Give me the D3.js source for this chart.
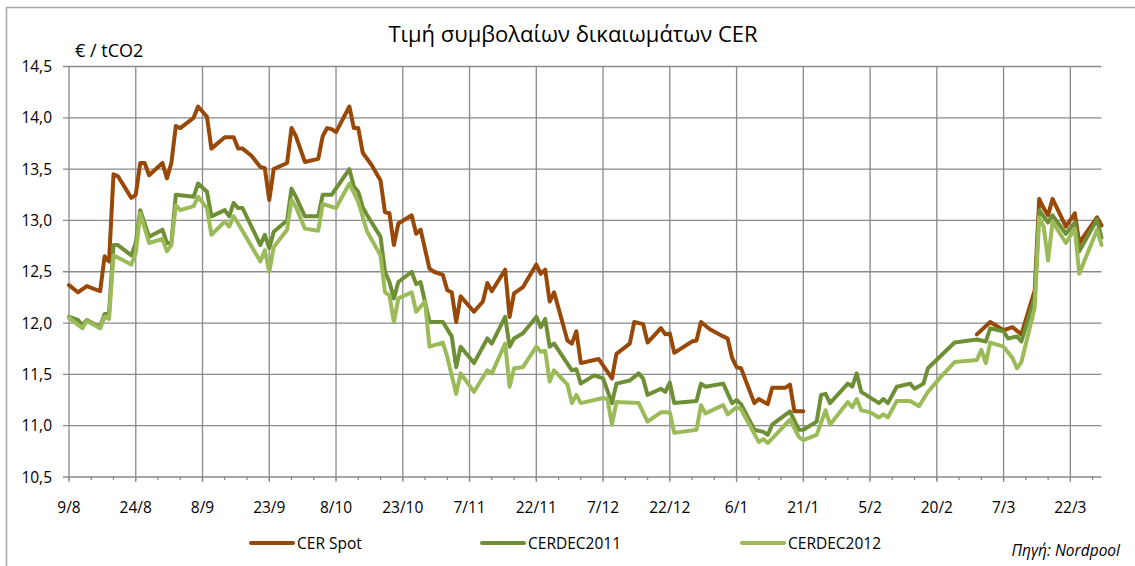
<!DOCTYPE html>
<html>
<head>
<meta charset="utf-8">
<script src="https://cdn.jsdelivr.net/npm/d3@7"></script>
<style>
  body { margin: 0; background: #fff; }
  text { font-family: "Open Sans", "Noto Sans", sans-serif; fill: #000; }
</style>
</head>
<body>
<svg id="chart" width="1135" height="566"></svg>
<script>
// prices, EUR/tCO2
var cerSpot = [
  ["2010-08-09", 12.37], ["2010-08-11", 12.30], ["2010-08-13", 12.36], ["2010-08-16", 12.31],
  ["2010-08-17", 12.65], ["2010-08-18", 12.60], ["2010-08-19", 13.45], ["2010-08-20", 13.43],
  ["2010-08-23", 13.22], ["2010-08-24", 13.25], ["2010-08-25", 13.56], ["2010-08-26", 13.56],
  ["2010-08-27", 13.44], ["2010-08-30", 13.56], ["2010-08-31", 13.41], ["2010-09-01", 13.56],
  ["2010-09-02", 13.92], ["2010-09-03", 13.90], ["2010-09-06", 14.00], ["2010-09-07", 14.11],
  ["2010-09-09", 14.01], ["2010-09-10", 13.70], ["2010-09-13", 13.81], ["2010-09-15", 13.81],
  ["2010-09-16", 13.70], ["2010-09-17", 13.70], ["2010-09-19", 13.63], ["2010-09-21", 13.52],
  ["2010-09-22", 13.51], ["2010-09-23", 13.20], ["2010-09-24", 13.50], ["2010-09-27", 13.56],
  ["2010-09-28", 13.90], ["2010-09-29", 13.82], ["2010-10-01", 13.57], ["2010-10-04", 13.60],
  ["2010-10-05", 13.82], ["2010-10-06", 13.90], ["2010-10-07", 13.89], ["2010-10-08", 13.86],
  ["2010-10-11", 14.11], ["2010-10-12", 13.90], ["2010-10-13", 13.90], ["2010-10-14", 13.66],
  ["2010-10-16", 13.54], ["2010-10-18", 13.39], ["2010-10-19", 13.08], ["2010-10-20", 13.07],
  ["2010-10-21", 12.76], ["2010-10-22", 12.97], ["2010-10-25", 13.05], ["2010-10-26", 12.87],
  ["2010-10-27", 12.91], ["2010-10-29", 12.53], ["2010-10-30", 12.50], ["2010-11-01", 12.47],
  ["2010-11-02", 12.32], ["2010-11-03", 12.30], ["2010-11-04", 12.01], ["2010-11-05", 12.26],
  ["2010-11-08", 12.11], ["2010-11-10", 12.21], ["2010-11-11", 12.39], ["2010-11-12", 12.31],
  ["2010-11-15", 12.52], ["2010-11-16", 12.06], ["2010-11-17", 12.29], ["2010-11-19", 12.35],
  ["2010-11-22", 12.57], ["2010-11-23", 12.48], ["2010-11-24", 12.52], ["2010-11-25", 12.21],
  ["2010-11-26", 12.30], ["2010-11-29", 11.83], ["2010-11-30", 11.80], ["2010-12-01", 11.92],
  ["2010-12-02", 11.61], ["2010-12-06", 11.65], ["2010-12-09", 11.46], ["2010-12-10", 11.70],
  ["2010-12-13", 11.80], ["2010-12-14", 12.01], ["2010-12-16", 11.99], ["2010-12-17", 11.81],
  ["2010-12-20", 11.95], ["2010-12-21", 11.89], ["2010-12-22", 11.90], ["2010-12-23", 11.71],
  ["2010-12-27", 11.82], ["2010-12-28", 11.83], ["2010-12-29", 12.01], ["2010-12-31", 11.94],
  ["2011-01-03", 11.87], ["2011-01-04", 11.85], ["2011-01-05", 11.66], ["2011-01-06", 11.57],
  ["2011-01-07", 11.56], ["2011-01-10", 11.22], ["2011-01-11", 11.26], ["2011-01-13", 11.21],
  ["2011-01-14", 11.37], ["2011-01-17", 11.37], ["2011-01-18", 11.40], ["2011-01-19", 11.14],
  ["2011-01-21", 11.14], ["2011-02-01", null],
  ["2011-03-01", 11.89], ["2011-03-04", 12.01], ["2011-03-07", 11.93], ["2011-03-09", 11.96],
  ["2011-03-11", 11.89], ["2011-03-14", 12.32], ["2011-03-15", 13.21], ["2011-03-16", 13.12],
  ["2011-03-17", 13.05], ["2011-03-18", 13.21], ["2011-03-21", 12.94], ["2011-03-23", 13.07],
  ["2011-03-24", 12.78], ["2011-03-28", 13.03], ["2011-03-29", 12.95]
];

var cerDec2011 = [
  ["2010-08-09", 12.06], ["2010-08-11", 12.03], ["2010-08-12", 11.98], ["2010-08-13", 12.03],
  ["2010-08-16", 11.96], ["2010-08-17", 12.09], ["2010-08-18", 12.10], ["2010-08-19", 12.76],
  ["2010-08-20", 12.76], ["2010-08-23", 12.66], ["2010-08-24", 12.78], ["2010-08-25", 13.10],
  ["2010-08-27", 12.84], ["2010-08-30", 12.91], ["2010-08-31", 12.78], ["2010-09-01", 12.78],
  ["2010-09-02", 13.25], ["2010-09-06", 13.23], ["2010-09-07", 13.36], ["2010-09-09", 13.28],
  ["2010-09-10", 13.04], ["2010-09-13", 13.10], ["2010-09-14", 13.04], ["2010-09-15", 13.17],
  ["2010-09-16", 13.12], ["2010-09-17", 13.12], ["2010-09-21", 12.76], ["2010-09-22", 12.86],
  ["2010-09-23", 12.73], ["2010-09-24", 12.89], ["2010-09-27", 13.00], ["2010-09-28", 13.31],
  ["2010-09-29", 13.23], ["2010-10-01", 13.04], ["2010-10-04", 13.04], ["2010-10-05", 13.25],
  ["2010-10-07", 13.25], ["2010-10-11", 13.50], ["2010-10-12", 13.33], ["2010-10-13", 13.28],
  ["2010-10-14", 13.13], ["2010-10-15", 13.05], ["2010-10-18", 12.84], ["2010-10-19", 12.50],
  ["2010-10-20", 12.40], ["2010-10-21", 12.24], ["2010-10-22", 12.40], ["2010-10-25", 12.50],
  ["2010-10-26", 12.38], ["2010-10-27", 12.40], ["2010-10-29", 12.01], ["2010-11-01", 12.01],
  ["2010-11-03", 11.87], ["2010-11-04", 11.57], ["2010-11-05", 11.77], ["2010-11-08", 11.61],
  ["2010-11-11", 11.85], ["2010-11-12", 11.80], ["2010-11-15", 12.06], ["2010-11-16", 11.77],
  ["2010-11-17", 11.85], ["2010-11-19", 11.90], ["2010-11-22", 12.06], ["2010-11-23", 11.96],
  ["2010-11-24", 12.04], ["2010-11-25", 11.77], ["2010-11-26", 11.80], ["2010-11-30", 11.54],
  ["2010-12-01", 11.55], ["2010-12-02", 11.41], ["2010-12-05", 11.49], ["2010-12-07", 11.46],
  ["2010-12-09", 11.22], ["2010-12-10", 11.41], ["2010-12-13", 11.44], ["2010-12-15", 11.51],
  ["2010-12-16", 11.46], ["2010-12-17", 11.30], ["2010-12-20", 11.36], ["2010-12-21", 11.33],
  ["2010-12-22", 11.42], ["2010-12-23", 11.22], ["2010-12-28", 11.24], ["2010-12-29", 11.41],
  ["2010-12-30", 11.38], ["2011-01-03", 11.41], ["2011-01-05", 11.22], ["2011-01-06", 11.25],
  ["2011-01-07", 11.21], ["2011-01-10", 10.96], ["2011-01-12", 10.94], ["2011-01-13", 10.91],
  ["2011-01-14", 11.01], ["2011-01-18", 11.14], ["2011-01-20", 10.96], ["2011-01-21", 10.96],
  ["2011-01-24", 11.04], ["2011-01-25", 11.30], ["2011-01-26", 11.31], ["2011-01-27", 11.22],
  ["2011-01-31", 11.41], ["2011-02-01", 11.38], ["2011-02-02", 11.51], ["2011-02-03", 11.33],
  ["2011-02-07", 11.22], ["2011-02-08", 11.26], ["2011-02-09", 11.22], ["2011-02-11", 11.38],
  ["2011-02-14", 11.41], ["2011-02-15", 11.36], ["2011-02-17", 11.41], ["2011-02-18", 11.56],
  ["2011-02-24", 11.81], ["2011-03-01", 11.84], ["2011-03-03", 11.82], ["2011-03-04", 11.95],
  ["2011-03-07", 11.92], ["2011-03-08", 11.85], ["2011-03-10", 11.87], ["2011-03-11", 11.82],
  ["2011-03-14", 12.25], ["2011-03-15", 13.10], ["2011-03-16", 13.04], ["2011-03-17", 12.98],
  ["2011-03-18", 13.05], ["2011-03-21", 12.87], ["2011-03-23", 12.98], ["2011-03-24", 12.70],
  ["2011-03-28", 13.01], ["2011-03-29", 12.83]
];

var cerDec2012 = [
  ["2010-08-09", 12.05], ["2010-08-12", 11.95], ["2010-08-13", 12.02], ["2010-08-16", 11.95],
  ["2010-08-17", 12.06], ["2010-08-18", 12.04], ["2010-08-19", 12.66], ["2010-08-23", 12.57],
  ["2010-08-24", 12.68], ["2010-08-25", 13.07], ["2010-08-27", 12.78], ["2010-08-30", 12.82],
  ["2010-08-31", 12.70], ["2010-09-01", 12.76], ["2010-09-02", 13.15], ["2010-09-03", 13.10],
  ["2010-09-06", 13.14], ["2010-09-07", 13.23], ["2010-09-09", 13.12], ["2010-09-10", 12.86],
  ["2010-09-13", 12.99], ["2010-09-14", 12.94], ["2010-09-15", 13.04], ["2010-09-16", 12.97],
  ["2010-09-21", 12.60], ["2010-09-22", 12.71], ["2010-09-23", 12.50], ["2010-09-24", 12.74],
  ["2010-09-27", 12.91], ["2010-09-28", 13.20], ["2010-09-29", 13.13], ["2010-10-01", 12.92],
  ["2010-10-04", 12.90], ["2010-10-05", 13.16], ["2010-10-08", 13.12], ["2010-10-11", 13.36],
  ["2010-10-13", 13.18], ["2010-10-15", 12.89], ["2010-10-18", 12.66], ["2010-10-19", 12.30],
  ["2010-10-20", 12.27], ["2010-10-21", 12.01], ["2010-10-22", 12.24], ["2010-10-25", 12.30],
  ["2010-10-26", 12.11], ["2010-10-28", 12.21], ["2010-10-29", 11.77], ["2010-11-01", 11.81],
  ["2010-11-02", 11.67], ["2010-11-04", 11.31], ["2010-11-05", 11.51], ["2010-11-08", 11.33],
  ["2010-11-11", 11.54], ["2010-11-12", 11.51], ["2010-11-15", 11.80], ["2010-11-16", 11.38],
  ["2010-11-17", 11.56], ["2010-11-19", 11.57], ["2010-11-22", 11.77], ["2010-11-23", 11.72],
  ["2010-11-24", 11.73], ["2010-11-25", 11.43], ["2010-11-26", 11.54], ["2010-11-29", 11.40],
  ["2010-11-30", 11.22], ["2010-12-01", 11.30], ["2010-12-02", 11.22], ["2010-12-07", 11.27],
  ["2010-12-08", 11.26], ["2010-12-09", 11.01], ["2010-12-10", 11.23], ["2010-12-15", 11.22],
  ["2010-12-17", 11.04], ["2010-12-20", 11.13], ["2010-12-22", 11.13], ["2010-12-23", 10.93],
  ["2010-12-28", 10.96], ["2010-12-29", 11.20], ["2010-12-30", 11.12], ["2011-01-03", 11.20],
  ["2011-01-04", 11.11], ["2011-01-06", 11.18], ["2011-01-07", 11.16], ["2011-01-10", 10.92],
  ["2011-01-11", 10.84], ["2011-01-12", 10.87], ["2011-01-13", 10.83], ["2011-01-15", 10.92],
  ["2011-01-18", 11.06], ["2011-01-20", 10.89], ["2011-01-21", 10.86], ["2011-01-24", 10.91],
  ["2011-01-26", 11.15], ["2011-01-27", 11.01], ["2011-01-31", 11.23], ["2011-02-01", 11.18],
  ["2011-02-02", 11.26], ["2011-02-03", 11.15], ["2011-02-05", 11.13], ["2011-02-07", 11.08],
  ["2011-02-08", 11.11], ["2011-02-09", 11.08], ["2011-02-11", 11.24], ["2011-02-14", 11.24],
  ["2011-02-16", 11.19], ["2011-02-18", 11.33], ["2011-02-21", 11.48], ["2011-02-24", 11.62],
  ["2011-03-01", 11.64], ["2011-03-02", 11.74], ["2011-03-03", 11.61], ["2011-03-04", 11.81],
  ["2011-03-07", 11.77], ["2011-03-09", 11.66], ["2011-03-10", 11.56], ["2011-03-11", 11.62],
  ["2011-03-14", 12.15], ["2011-03-15", 13.03], ["2011-03-16", 12.94], ["2011-03-17", 12.61],
  ["2011-03-18", 12.99], ["2011-03-21", 12.78], ["2011-03-23", 12.92], ["2011-03-24", 12.48],
  ["2011-03-28", 12.91], ["2011-03-29", 12.76]
];

var seriesNames = ["CER Spot", "CERDEC2011", "CERDEC2012"];
var seriesColors = ["#984807", "#6f8f37", "#9bbb59"];
var xTickDates = ["2010-08-09", "2010-08-24", "2010-09-08", "2010-09-23", "2010-10-08",
  "2010-10-23", "2010-11-07", "2010-11-22", "2010-12-07", "2010-12-22", "2011-01-06",
  "2011-01-21", "2011-02-05", "2011-02-20", "2011-03-07", "2011-03-22"];
var yTicks = [10.5, 11, 11.5, 12, 12.5, 13, 13.5, 14, 14.5];
var titleText = "Τιμή συμβολαίων δικαιωμάτων CER";
var unitText = "€ / tCO2";
var sourceText = "Πηγή: Nordpool";

var parse = d3.utcParse("%Y-%m-%d");
var fmtTick = d3.utcFormat("%-d/%-m");
var fmtY = d3.formatLocale({ decimal: ",", thousands: ".", grouping: [3], currency: ["€", ""] }).format(".1f");

var svg = d3.select("#chart");
var plotL = 69, plotR = 1101.5, plotT = 66.5, plotB = 477;

var x = d3.scaleUtc()
  .domain([parse("2010-08-09"), parse("2011-03-29")])
  .range([plotL, plotR]);
var y = d3.scaleLinear()
  .domain([10.5, 14.5])
  .range([plotB, plotT]);

// outer chart frame (only left & top edge fall inside the picture)
svg.append("rect")
  .attr("x", 6.5).attr("y", 7.5)
  .attr("width", 1160).attr("height", 600)
  .attr("fill", "none")
  .attr("stroke", "#a6a6a6")
  .attr("stroke-width", 1.5);

svg.append("text")
  .attr("x", 573).attr("y", 42)
  .attr("text-anchor", "middle")
  .style("font-size", "22px")
  .text(titleText);

svg.append("text")
  .attr("x", 75).attr("y", 57)
  .style("font-size", "18px")
  .text(unitText);

var gridColor = "#8a8a8a";

// horizontal gridlines
svg.append("g")
  .selectAll("line")
  .data(yTicks)
  .enter()
  .append("line")
  .attr("x1", plotL - 6).attr("x2", plotR)
  .attr("y1", function(d) { return y(d); })
  .attr("y2", function(d) { return y(d); })
  .attr("stroke", gridColor)
  .attr("stroke-width", 1.3);

// vertical gridlines + major ticks
var majors = xTickDates.map(parse);
svg.append("g")
  .selectAll("line")
  .data(majors)
  .enter()
  .append("line")
  .attr("x1", function(d) { return x(d); })
  .attr("x2", function(d) { return x(d); })
  .attr("y1", plotT).attr("y2", plotB + 5)
  .attr("stroke", gridColor)
  .attr("stroke-width", 1.3);

// minor ticks every 5 days
var minors = d3.range(0, 233, 5).map(function(n) { return d3.utcDay.offset(parse("2010-08-09"), n); });
svg.append("g")
  .selectAll("line")
  .data(minors)
  .enter()
  .append("line")
  .attr("x1", function(d) { return x(d); })
  .attr("x2", function(d) { return x(d); })
  .attr("y1", plotB).attr("y2", plotB + 3)
  .attr("stroke", gridColor)
  .attr("stroke-width", 1.3);

// y labels
svg.append("g")
  .selectAll("text")
  .data(yTicks)
  .enter()
  .append("text")
  .attr("x", 52)
  .attr("y", function(d) { return y(d) + 5.5; })
  .attr("text-anchor", "end")
  .style("font-size", "15.5px")
  .text(function(d) { return fmtY(d); });

// x labels
svg.append("g")
  .selectAll("text")
  .data(majors)
  .enter()
  .append("text")
  .attr("x", function(d) { return x(d); })
  .attr("y", 513)
  .attr("text-anchor", "middle")
  .style("font-size", "15.5px")
  .text(function(d) { return fmtTick(d); });

// series lines
var line = d3.line()
  .defined(function(d) { return d[1] != null; })
  .x(function(d) { return x(parse(d[0])); })
  .y(function(d) { return y(d[1]); });

[cerSpot, cerDec2011, cerDec2012].forEach(function(s, i) {
  svg.append("path")
    .datum(s)
    .attr("d", line)
    .attr("fill", "none")
    .attr("stroke", seriesColors[i])
    .attr("stroke-width", 4)
    .attr("stroke-linejoin", "round")
    .attr("stroke-linecap", "round");
});

// legend
var legendX = [251, 482, 742];
var lg = svg.append("g")
  .selectAll("g")
  .data(seriesNames)
  .enter()
  .append("g")
  .attr("transform", function(d, i) { return "translate(" + legendX[i] + ",543)"; });
lg.append("line")
  .attr("x1", 0).attr("x2", 42)
  .attr("stroke", function(d, i) { return seriesColors[i]; })
  .attr("stroke-width", 4)
  .attr("stroke-linecap", "round");
lg.append("text")
  .attr("x", 46).attr("y", 5.5)
  .style("font-size", "15.5px")
  .text(function(d) { return d; });

svg.append("text")
  .attr("x", 1120).attr("y", 556)
  .attr("text-anchor", "end")
  .style("font-size", "15.5px")
  .style("font-style", "italic")
  .text(sourceText);
</script>
</body>
</html>
